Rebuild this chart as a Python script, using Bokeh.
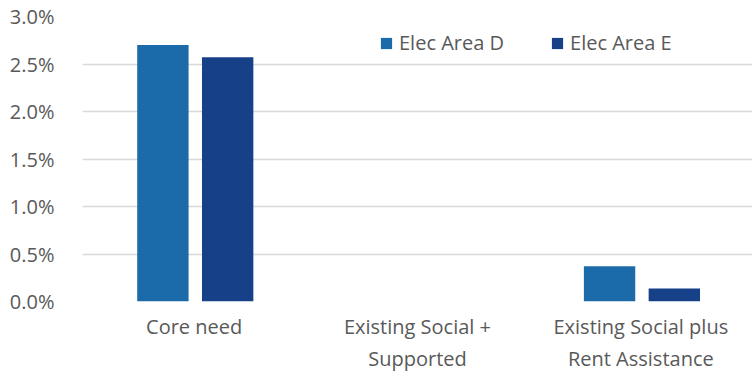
from bokeh.plotting import figure
from bokeh.models import ColumnDataSource, FactorRange, NumeralTickFormatter, Legend, LegendItem, SingleIntervalTicker
from bokeh.transform import dodge
from bokeh.embed import file_html
from bokeh.resources import INLINE

categories = ["Core need", "Existing Social +\nSupported", "Existing Social plus\nRent Assistance"]
area_d = [0.0270, 0.0, 0.0037]
area_e = [0.0257, 0.0, 0.00137]
series_names = ["Elec Area D", "Elec Area E"]
colors = ["#1B6AA9", "#164189"]

src = ColumnDataSource(dict(cat=categories, d=area_d, e=area_e))

p = figure(x_range=FactorRange(*categories), y_range=(0, 0.03),
           width=752, height=374, output_backend="svg", toolbar_location=None,
           min_border_left=82, min_border_right=0, min_border_top=16, min_border_bottom=40)
p.outline_line_color = None

r1 = p.vbar(x=dodge("cat", -0.14, range=p.x_range), top="d", width=0.23, source=src,
            fill_color=colors[0], line_color=None)
r2 = p.vbar(x=dodge("cat", 0.15, range=p.x_range), top="e", width=0.23, source=src,
            fill_color=colors[1], line_color=None)

p.yaxis.ticker = SingleIntervalTicker(interval=0.005)
p.yaxis.formatter = NumeralTickFormatter(format="0.0%")
for ax in (p.xaxis, p.yaxis):
    ax.axis_line_color = None
    ax.major_tick_line_color = None
    ax.minor_tick_line_color = None
    ax.major_label_text_font = "Open Sans"
    ax.major_label_text_font_size = "20px"
    ax.major_label_text_color = "#595959"
p.yaxis.major_label_standoff = 22
p.xaxis.major_label_standoff = 5
p.xaxis.major_label_text_line_height = 1.2
p.xgrid.grid_line_color = None
p.ygrid.grid_line_color = "#D9D9D9"
p.ygrid.grid_line_width = 1.5

legend = Legend(items=[LegendItem(label=series_names[0], renderers=[r1]),
                       LegendItem(label=series_names[1], renderers=[r2])],
                orientation="horizontal", location=(297, 245),
                padding=0, margin=0, spacing=46, label_standoff=6,
                glyph_width=14, glyph_height=14,
                border_line_color=None, background_fill_alpha=0,
                label_text_font="Open Sans", label_text_font_size="20px",
                label_text_color="#595959")
p.add_layout(legend, "center")

open("out.html", "w").write(file_html(p, INLINE))
